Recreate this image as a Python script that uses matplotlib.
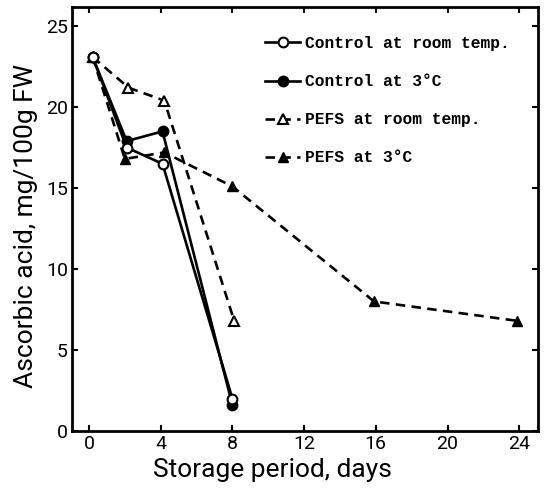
import numpy as np
import matplotlib.pyplot as plt

# storage period (days) and ascorbic acid (mg/100g FW)
days_ctrl = [0.2, 2.1, 4.1, 8.0]
ctrl_room = [23.1, 17.5, 16.5, 2.0]
ctrl_cold = [23.1, 17.9, 18.5, 1.6]

days_pefs_room = [0.2, 2.2, 4.2, 8.1]
pefs_room = [23.1, 21.2, 20.4, 6.8]

days_pefs_cold = [0.2, 2.0, 4.2, 8.0, 15.9, 23.9]
pefs_cold = [23.1, 16.8, 17.2, 15.1, 8.0, 6.8]

xticks = [0, 4, 8, 12, 16, 20, 24]
yticks = [0, 5, 10, 15, 20, 25]

fig = plt.figure(figsize=(5.47, 4.91), dpi=100)
ax = fig.add_axes([0.1316, 0.1222, 0.852, 0.8642])

lw = 1.9
dash = (3.6, 2.4)
ax.plot(days_pefs_cold, pefs_cold, color='black', lw=lw, ls='--', dashes=dash,
        marker='^', ms=7.5, mfc='black', mec='black', label='PEFS at 3°C', zorder=2)
ax.plot(days_pefs_room, pefs_room, color='black', lw=lw, ls='--', dashes=dash,
        marker='^', ms=7, mfc='white', mec='black', mew=1.5, label='PEFS at room temp.', zorder=3)
ax.plot(days_ctrl, ctrl_cold, color='black', lw=lw, marker='o', ms=7.5,
        mfc='black', mec='black', label='Control at 3°C', zorder=4)
ax.plot(days_ctrl, ctrl_room, color='black', lw=lw, marker='o', ms=7,
        mfc='white', mec='black', mew=1.5, label='Control at room temp.', zorder=5)

ax.set_xlim(-0.95, 25.05)
ax.set_ylim(0, 26.2)
ax.set_xticks(xticks)
ax.set_yticks(yticks)

tickfont = dict(family='Roboto', size=14)
ax.set_xticklabels([str(t) for t in xticks], fontdict=tickfont)
ax.set_yticklabels([str(t) for t in yticks], fontdict=tickfont)
ax.tick_params(direction='in', length=4, width=1.5, top=True, right=True, pad=3)

for s in ax.spines.values():
    s.set_linewidth(2.0)

ax.set_xlabel('Storage period, days', family='Roboto', fontsize=19)
ax.set_ylabel('Ascorbic acid, mg/100g FW', family='Roboto', fontsize=19)
ax.xaxis.set_label_coords(0.431, -0.064)
ax.yaxis.set_label_coords(-0.073, 0.483)

handles, labels = ax.get_legend_handles_labels()
order = [3, 2, 1, 0]
ax.legend([handles[i] for i in order], [labels[i] for i in order],
          loc='upper left', bbox_to_anchor=(0.383, 0.965), frameon=False,
          handlelength=2.15, handletextpad=0.3, labelspacing=1.42,
          prop=dict(family='Liberation Mono', weight='bold', size=11.7))

fig.savefig('out.png', dpi=100)
